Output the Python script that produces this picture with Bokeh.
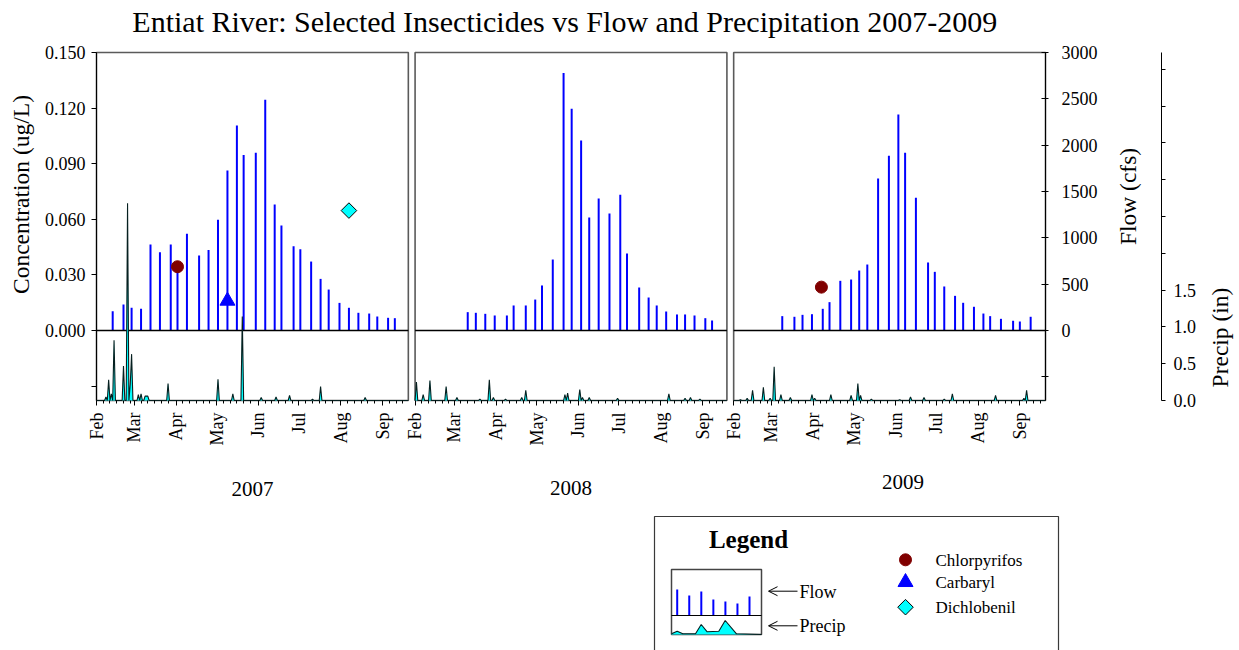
import datetime as dt
from math import pi

from bokeh.plotting import figure
from bokeh.models import Range1d, LinearAxis, FixedTicker, PrintfTickFormatter, Arrow, OpenHead
from bokeh.embed import file_html
from bokeh.resources import INLINE
from bokeh.core.properties import value

# ---------------- data ----------------
TITLE = "Entiat River:  Selected Insecticides vs Flow and Precipitation 2007-2009"
YEARS = [2007, 2008, 2009]
YEAR_LABELS = ["2007", "2008", "2009"]
MONTH_NAMES = ["Feb", "Mar", "Apr", "May", "Jun", "Jul", "Aug", "Sep"]

# flow samples: days since Feb 1, flow (cfs)
flow_days_2007 = [12, 20, 26, 33, 40, 47, 55, 60, 67, 76, 83, 90, 97, 104, 109, 118,
                  125, 132, 137, 146, 151, 159, 166, 172, 180, 187, 194, 202, 208, 216, 221]
flow_2007 = [208, 280, 245, 234, 928, 845, 928, 660, 1043, 809, 870, 1194, 1726, 2212, 1895, 1917,
             2489, 1360, 1133, 910, 877, 744, 557, 442, 298, 245, 191, 183, 151, 137, 133]

flow_days_2008 = [39, 45, 52, 59, 68, 73, 82, 89, 94, 102, 110, 116, 123, 129, 136, 144,
                  152, 157, 166, 173, 179, 186, 194, 200, 207, 215, 220]
flow_2008 = [198, 191, 180, 162, 162, 270, 270, 334, 486, 766, 2780, 2392, 2050, 1219, 1424, 1262,
             1464, 831, 464, 356, 270, 205, 173, 173, 162, 133, 108]

flow_days_2009 = [36, 45, 51, 58, 66, 71, 79, 87, 93, 99, 107, 115, 122, 127, 135, 144,
                  149, 156, 164, 170, 178, 185, 190, 198, 207, 212, 220]
flow_2009 = [155, 148, 169, 176, 234, 306, 536, 550, 647, 712, 1640, 1885, 2331, 1917, 1432, 734,
             633, 475, 374, 299, 256, 183, 155, 126, 105, 97, 148]

# daily precipitation (in): days with rain (days since Feb 1) and amounts
precip_days_2007 = [7, 9, 11, 13, 20, 23, 25, 26, 31, 33, 36, 37, 38, 53, 90, 101, 108,
                    122, 133, 143, 160, 166, 199]
precip_2007 = [0.05, 0.28, 0.09, 0.82, 0.47, 2.68, 0.22, 0.63, 0.08, 0.09, 0.06, 0.06, 0.06,
               0.23, 0.29, 0.09, 1.14, 0.04, 0.05, 0.07, 0.02, 0.19, 0.04]

precip_days_2008 = [1, 6, 11, 23, 31, 48, 55, 58, 67, 79, 82, 111, 113, 122, 124, 129,
                    150, 188, 200, 204, 211]
precip_2008 = [0.25, 0.08, 0.27, 0.19, 0.04, 0.02, 0.28, 0.04, 0.02, 0.04, 0.14, 0.08, 0.10,
               0.15, 0.04, 0.04, 0.03, 0.09, 0.03, 0.04, 0.02]

precip_days_2009 = [5, 10, 14, 22, 27, 30, 35, 42, 58, 60, 72, 87, 92, 94, 102, 123, 131,
                    141, 156, 162, 194, 215, 217]
precip_2009 = [0.01, 0.03, 0.14, 0.18, 0.03, 0.46, 0.08, 0.04, 0.08, 0.03, 0.08, 0.07, 0.23,
               0.07, 0.02, 0.01, 0.05, 0.04, 0.02, 0.09, 0.07, 0.03, 0.14]

# detections: (year index, days since Feb 1, concentration ug/L)
chlorpyrifos_year = [0, 2]
chlorpyrifos_day = [60, 65]
chlorpyrifos_conc = [0.0344, 0.0234]

carbaryl_year = [0]
carbaryl_day = [97]
carbaryl_conc = [0.016]

dichlobenil_year = [0]
dichlobenil_day = [187]
dichlobenil_conc = [0.0647]

# legend sketch sample values (relative heights)
legend_flow_sample = [26, 20, 24, 16, 14, 12, 19]
legend_precip_sample = [0.7, 3.3, 0.7, 0.7, 10, 2.7, 3.3, 14, 0.7, 0]

flow_days = [flow_days_2007, flow_days_2008, flow_days_2009]
flows = [flow_2007, flow_2008, flow_2009]
precip_days = [precip_days_2007, precip_days_2008, precip_days_2009]
precips = [precip_2007, precip_2008, precip_2009]

# ---------------- layout ----------------
FONT = "Liberation Serif"
W, H = 1239, 650
P = 231          # days shown per panel (Feb 1 .. ~Sep 19)
G = 5            # gap between panels (days)
offsets = [k * (P + G) for k in range(3)]
XMAX = 3 * P + 2 * G

# pixel anchors of the plotting area (whole canvas is one frame)
PX_LEFT, PX_RIGHT = 96, 1045
PX_TOP, PX_ZERO, PX_BOTTOM = 52, 330, 400
PX_PRECIP_AXIS = 1161

CONC_MAX, FLOW_MAX, PREC_MAX = 0.150, 3000.0, 4.73
day_per_px = XMAX / (PX_RIGHT - PX_LEFT)
conc_per_px = CONC_MAX / (PX_ZERO - PX_TOP)
flow_per_px = FLOW_MAX / (PX_ZERO - PX_TOP)
prec_per_px = PREC_MAX / (PX_BOTTOM - PX_TOP)


def xd(px):
    return (px - PX_LEFT) * day_per_px


def yc(py):
    return (PX_ZERO - py) * conc_per_px


CONC_LO = yc(PX_BOTTOM)
FLOW_LO = (PX_ZERO - PX_BOTTOM) * flow_per_px

p = figure(width=W, height=H, x_range=Range1d(xd(0), xd(W)), y_range=Range1d(yc(H), yc(0)),
           output_backend="svg", toolbar_location=None, min_border=0)
p.extra_y_ranges = {
    "flow": Range1d((PX_ZERO - H) * flow_per_px, PX_ZERO * flow_per_px),
    "precip": Range1d((PX_BOTTOM - H) * prec_per_px, PX_BOTTOM * prec_per_px),
}
p.outline_line_color = None
p.xgrid.visible = False
p.ygrid.visible = False
xa = p.below[0]
ya = p.left[0]

# panel frames
p.quad(left=offsets, right=[o + P for o in offsets], bottom=CONC_LO, top=CONC_MAX,
       fill_color=None, line_color="#5a5a5a", line_width=1.6)

# flow bars
for k in range(3):
    xs = [offsets[k] + d for d in flow_days[k]]
    p.segment(x0=xs, y0=[0] * len(xs), x1=xs, y1=flows[k], y_range_name="flow",
              line_color="#0000ff", line_width=2)

# zero lines
p.segment(x0=offsets, x1=[o + P for o in offsets], y0=[0] * 3, y1=[0] * 3,
          y_range_name="flow", line_color="black", line_width=1.3)

# precipitation
for k in range(3):
    series = [0.0] * (P + 1)
    for d, v in zip(precip_days[k], precips[k]):
        series[d] = v
    xs = [offsets[k] + d for d in range(P + 1)]
    p.varea(x=xs, y1=[0.0] * len(xs), y2=series, y_range_name="precip", fill_color="#00ffff")
    p.line(xs, series, y_range_name="precip", line_color="#062020", line_width=1.1)

# detections
p.scatter(x=[offsets[y] + d for y, d in zip(chlorpyrifos_year, chlorpyrifos_day)],
          y=chlorpyrifos_conc, marker="circle", size=12,
          fill_color="#800000", line_color="#800000")
p.scatter(x=[offsets[y] + d for y, d in zip(carbaryl_year, carbaryl_day)],
          y=carbaryl_conc, marker="triangle", size=15,
          fill_color="#0000ff", line_color="#0000ff")
p.scatter(x=[offsets[y] + d for y, d in zip(dichlobenil_year, dichlobenil_day)],
          y=dichlobenil_conc, marker="square", angle=pi / 4, size=11,
          fill_color="#00ffff", line_color="black", line_width=1)

# ---------------- axes (fixed at the panel edges) ----------------
TICK_FONT = "18px"

# month axis along the panel bottoms
major, minor, month_labels = [], [], {}
for k, yr in enumerate(YEARS):
    starts = [(dt.date(yr, m, 1) - dt.date(yr, 2, 1)).days for m in range(2, 10)]
    for i, s in enumerate(starts):
        t = float(offsets[k] + s)
        major.append(t)
        month_labels[t] = MONTH_NAMES[i]
        nxt = starts[i + 1] if i + 1 < len(starts) else P
        d = s + 5
        while d < nxt - 2:
            minor.append(float(offsets[k] + d))
            d += 5

xa.fixed_location = CONC_LO
xa.bounds = (0, XMAX)
xa.ticker = FixedTicker(ticks=major, minor_ticks=minor)
xa.major_label_overrides = month_labels
xa.major_label_orientation = pi / 2
xa.axis_line_color = None
xa.major_tick_out = 5
xa.major_tick_in = 0
xa.minor_tick_out = 3
xa.minor_tick_in = 0
xa.major_tick_line_color = "black"
xa.minor_tick_line_color = "black"
xa.major_label_standoff = 7
xa.major_label_text_font = FONT
xa.major_label_text_font_size = "18px"
xa.major_label_text_color = "black"

# concentration axis on the left edge of the first panel
ya.fixed_location = 0
ya.bounds = (CONC_LO, CONC_MAX)
ya.ticker = FixedTicker(ticks=[-0.03, 0.0, 0.03, 0.06, 0.09, 0.12, 0.15])
ya.formatter = PrintfTickFormatter(format="%.3f")
ya.major_label_overrides = {-0.03: ""}
ya.major_tick_out = 5
ya.major_tick_in = 0
ya.minor_tick_out = 0
ya.minor_tick_in = 0
ya.major_label_standoff = 6
ya.axis_line_color = "black"
ya.major_tick_line_color = "black"
ya.major_label_text_font = FONT
ya.major_label_text_font_size = TICK_FONT
ya.major_label_text_color = "black"

# flow axis on the right edge of the last panel
flow_axis = LinearAxis(y_range_name="flow", fixed_location=XMAX, bounds=(FLOW_LO, FLOW_MAX),
                       ticker=FixedTicker(ticks=[-500, 0, 500, 1000, 1500, 2000, 2500, 3000]),
                       major_label_overrides={-500: ""},
                       major_tick_out=3, major_tick_in=4, minor_tick_out=0, minor_tick_in=0,
                       major_label_standoff=13, axis_line_color="black",
                       major_tick_line_color="black", major_label_text_color="black",
                       major_label_text_font=FONT, major_label_text_font_size=TICK_FONT)
p.add_layout(flow_axis, "right")

# separate precipitation axis
prec_ticks = [0.0, 0.5, 1.0, 1.5, 2.0, 2.5, 3.0, 3.5, 4.0, 4.5]
prec_axis = LinearAxis(y_range_name="precip", fixed_location=xd(PX_PRECIP_AXIS),
                       bounds=(0.0, PREC_MAX), ticker=FixedTicker(ticks=prec_ticks),
                       major_label_overrides={t: ("%.1f" % t if t <= 1.5 else "") for t in prec_ticks},
                       major_tick_out=4, major_tick_in=0, minor_tick_out=0, minor_tick_in=0,
                       major_label_standoff=8, axis_line_color="black",
                       major_tick_line_color="black", major_label_text_color="black",
                       major_label_text_font=FONT, major_label_text_font_size=TICK_FONT)
p.add_layout(prec_axis, "right")


# ---------------- texts ----------------
def put_text(txt, px, py, size, angle=0.0, style="normal", align="center"):
    p.text(x=[xd(px)], y=[yc(py)], text=[txt], angle=angle, text_font=value(FONT),
           text_font_size=size, text_font_style=style, text_align=align,
           text_baseline="middle", text_color="black")


put_text(TITLE, 568, 21, "30px")
put_text("Concentration (ug/L)", 20, 194, "23.5px", pi / 2)
put_text("Flow (cfs)", 1127, 196, "23.5px", pi / 2)
put_text("Precip (in)", 1219, 337, "23.5px", pi / 2)

year_shift_days = [0, 0, 10]
year_y_px = [488, 487, 481]
p.text(x=[offsets[k] + P / 2 + year_shift_days[k] for k in range(3)],
       y=[yc(v) for v in year_y_px], text=YEAR_LABELS, text_font=value(FONT),
       text_font_size="21px", text_align="center", text_baseline="middle", text_color="black")

# ---------------- legend box ----------------
LX, LY = 654, 516   # top-left corner of the legend box (px)


def lx(v):
    return xd(LX + v)


def ly(v):
    return yc(LY + v)


p.quad(left=lx(0), right=lx(404), top=ly(0), bottom=ly(300), fill_color=None,
       line_color="#3a3a3a", line_width=1.2)
put_text("Legend", LX + 94, LY + 23, "25px", style="bold")

mx0, mx1, my_top, my_zero, my_bot = 17, 107, 53, 99, 118
p.quad(left=lx(mx0), right=lx(mx1), top=ly(my_top), bottom=ly(my_bot), fill_color=None,
       line_color="#444444", line_width=1.5)
bar_x = [lx(mx0 + 5.7 + 12.05 * i) for i in range(len(legend_flow_sample))]
p.segment(x0=bar_x, x1=bar_x, y0=[ly(my_zero)] * len(bar_x),
          y1=[ly(my_zero - h) for h in legend_flow_sample], line_color="#0000ff", line_width=2)
p.segment(x0=[lx(mx0)], x1=[lx(mx1)], y0=[ly(my_zero)], y1=[ly(my_zero)],
          line_color="black", line_width=1.2)
sketch_x = [lx(v) for v in [17, 22.7, 28.3, 41, 46.7, 52.7, 64.3, 70.7, 82, 107]]
sketch_y = [ly(my_bot - h) for h in legend_precip_sample]
p.varea(x=sketch_x, y1=[ly(my_bot)] * len(sketch_x), y2=sketch_y, fill_color="#00ffff")
p.line(sketch_x, sketch_y, line_color="#062020", line_width=1.1)

for yy, txt in [(74.7, "Flow"), (109.3, "Precip")]:
    p.add_layout(Arrow(end=OpenHead(size=9, line_width=1), x_start=lx(143), y_start=ly(yy),
                       x_end=lx(114), y_end=ly(yy), line_width=1))
    put_text(txt, LX + 145, LY + yy + 0.5, "18px", align="left")

p.scatter(x=[lx(251)], y=[ly(43.3)], marker="circle", size=12,
          fill_color="#800000", line_color="#800000")
p.scatter(x=[lx(251)], y=[ly(65.7)], marker="triangle", size=15,
          fill_color="#0000ff", line_color="#0000ff")
p.scatter(x=[lx(251)], y=[ly(90.7)], marker="square", angle=pi / 4, size=11,
          fill_color="#00ffff", line_color="black", line_width=1)
for yy, txt in [(43.8, "Chlorpyrifos"), (66.2, "Carbaryl"), (91.2, "Dichlobenil")]:
    put_text(txt, LX + 281, LY + yy, "17px", align="left")

open("out.html", "w").write(file_html(p, INLINE))
